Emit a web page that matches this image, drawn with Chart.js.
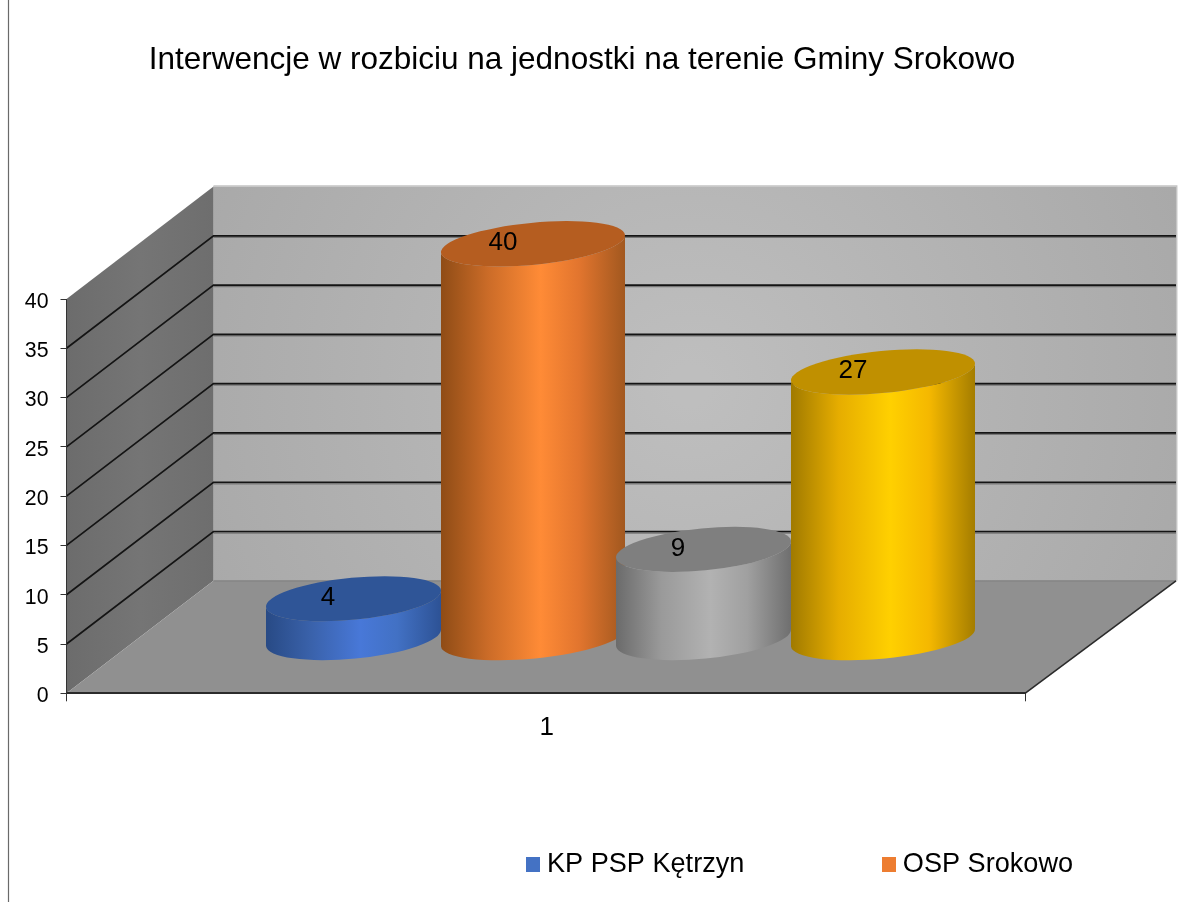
<!DOCTYPE html>
<html><head><meta charset="utf-8">
<style>html,body{margin:0;padding:0;background:#fff}canvas{display:block}</style>
<script src="https://cdn.jsdelivr.net/npm/chart.js@4"></script>
</head><body>
<canvas id="c" width="1192" height="902"></canvas>
<script>
const chartTitle = 'Interwencje w rozbiciu na jednostki na terenie Gminy Srokowo';
const categories = ['1'];
const seriesNames = ['KP PSP Kętrzyn', 'OSP Srokowo', '', ''];
const series1 = [4];
const series2 = [40];
const series3 = [9];
const series4 = [27];
const seriesValues = [series1, series2, series3, series4];
const baseColors = ['#4472c4', '#ed7d31', '#a5a5a5', '#ffc000'];
const topColors = ['#2f5597', '#b55d20', '#7f7f7f', '#c09000'];
const sideStops = [
  ['#284a85', '#3a62ab', '#4878d8', '#4271c4', '#2d5295'],
  ['#8f4c16', '#cc6c28', '#ff8b36', '#e2752e', '#a2581f'],
  ['#6b6b6b', '#9a9a9a', '#b2b2b2', '#a0a0a0', '#6f6f6f'],
  ['#a07a00', '#e6ad00', '#ffd000', '#f5b800', '#a47d00']
];
const extraWidth = [0, 9, 0, 9];
const FONT = '"Liberation Sans", Arial, sans-serif';
const DEPTH = {leftX: 147, rightX: 151, y: 112.5, barX: 70.25, barY: 55.2};

function swatch(color) {
  const s = document.createElement('canvas');
  s.width = 14; s.height = 15;
  const g = s.getContext('2d');
  g.fillStyle = color; g.fillRect(0, 0, 14, 15);
  return s;
}

const scene3d = {
  id: 'scene3d',
  beforeLayout(chart) {
    const l = chart.legend;
    if (l && !l._slim) {
      const fit = l.fit;
      l.fit = function () { fit.call(this); this.height = 10; };
      l._slim = true;
    }
  },
  afterLayout(chart) {
    const t = chart.titleBlock;
    t.left = -28; t.right = 1192;
    const l = chart.legend, p = chart.options.plugins.legend.labels.padding;
    l.left = 532.5 - p; l.right = 1700; l.top = 851 - p; l.bottom = 902;
  },
  beforeDraw(chart) {
    const ctx = chart.ctx, {left, right} = chart.chartArea;
    const ys = chart.scales.y;
    const y0 = ys.getPixelForValue(0), yTop = ys.getPixelForValue(40);
    const bl = left + DEPTH.leftX, br = right + DEPTH.rightX;
    const by0 = y0 - DEPTH.y, byTop = yTop - DEPTH.y;
    ctx.save();
    // outer frame line
    ctx.strokeStyle = '#6a6a6a'; ctx.lineWidth = 1.2;
    ctx.beginPath(); ctx.moveTo(8.5, 0); ctx.lineTo(8.5, 902); ctx.stroke();
    // back wall
    const rg = ctx.createRadialGradient(690, 385, 20, 690, 385, 520);
    rg.addColorStop(0, '#bebebe'); rg.addColorStop(1, '#a9a9a9');
    ctx.fillStyle = rg;
    ctx.fillRect(bl, byTop, br - bl, by0 - byTop);
    ctx.strokeStyle = '#c4c4c4'; ctx.lineWidth = 1.5;
    ctx.beginPath(); ctx.moveTo(bl, byTop - .5); ctx.lineTo(br + .7, byTop - .5); ctx.lineTo(br + .7, by0); ctx.stroke();
    // left wall
    const lg = ctx.createLinearGradient(left, 0, bl, 0);
    lg.addColorStop(0, '#6c6c6c'); lg.addColorStop(.5, '#757575'); lg.addColorStop(1, '#6e6e6e');
    ctx.fillStyle = lg;
    ctx.beginPath(); ctx.moveTo(left, yTop); ctx.lineTo(bl, byTop); ctx.lineTo(bl, by0); ctx.lineTo(left, y0); ctx.closePath(); ctx.fill();
    // floor
    ctx.fillStyle = '#909090';
    ctx.beginPath(); ctx.moveTo(left, y0); ctx.lineTo(bl, by0); ctx.lineTo(br, by0); ctx.lineTo(right, y0); ctx.closePath(); ctx.fill();
    ctx.strokeStyle = '#808080'; ctx.lineWidth = 1.2;
    ctx.beginPath(); ctx.moveTo(bl, by0); ctx.lineTo(br, by0); ctx.stroke();
    // floor edge
    ctx.strokeStyle = '#2b2b2b'; ctx.lineWidth = 1.6;
    ctx.beginPath(); ctx.moveTo(right, y0); ctx.lineTo(br, by0); ctx.stroke();
    // grid lines
    ys.ticks.forEach(tk => {
      if (tk.value === 0 || tk.value === 40) return;
      const y = ys.getPixelForValue(tk.value), by = y - DEPTH.y;
      ctx.strokeStyle = '#777'; ctx.lineWidth = 1.5;
      ctx.beginPath(); ctx.moveTo(bl, by + 1.4); ctx.lineTo(br, by + 1.4); ctx.stroke();
      ctx.strokeStyle = '#141414'; ctx.lineWidth = 1.7;
      ctx.beginPath(); ctx.moveTo(left, y); ctx.lineTo(bl, by); ctx.lineTo(br, by); ctx.stroke();
    });
    ctx.restore();
  },
  beforeDatasetDraw() { return false; },
  afterDatasetsDraw(chart) {
    const ctx = chart.ctx;
    const rot = -5.5 * Math.PI / 180, b = 21;
    const tops = [];
    chart.data.datasets.forEach((ds, i) => {
      const el = chart.getDatasetMeta(i).data[0];
      const x0 = el.x - el.width / 2 + DEPTH.barX;
      const x1 = el.x + el.width / 2 + DEPTH.barX + extraWidth[i];
      const cx = (x0 + x1) / 2, a = (x1 - x0) / 2 / Math.cos(rot);
      const yt = el.y - DEPTH.barY, yb = el.base - DEPTH.barY;
      const g = ctx.createLinearGradient(x0, 0, x1, 0);
      [0, .26, .54, .75, 1].forEach((o, k) => g.addColorStop(o, sideStops[i][k]));
      ctx.save();
      ctx.fillStyle = g;
      ctx.beginPath();
      ctx.ellipse(cx, yb, a, b, rot, 0, Math.PI);
      ctx.ellipse(cx, yt, a, b, rot, Math.PI, 0, true);
      ctx.closePath(); ctx.fill();
      ctx.fillStyle = topColors[i];
      ctx.beginPath(); ctx.ellipse(cx, yt, a, b, rot, 0, Math.PI * 2); ctx.fill();
      ctx.restore();
      tops.push({v: ds.data[0], x: x0 + 62, y: yt});
    });
    ctx.save();
    ctx.font = '26px ' + FONT; ctx.fillStyle = '#000';
    ctx.textAlign = 'center'; ctx.textBaseline = 'middle';
    tops.forEach(t => ctx.fillText(String(t.v), t.x, t.y - 1));
    ctx.restore();
  }
};

new Chart(document.getElementById('c'), {
  type: 'bar',
  data: {
    labels: categories,
    datasets: seriesNames.map((name, i) => ({
      label: name,
      data: seriesValues[i],
      backgroundColor: baseColors[i],
      categoryPercentage: 0.7303,
      barPercentage: 1
    }))
  },
  plugins: [scene3d],
  options: {
    responsive: false,
    animation: false,
    layout: {padding: {left: 0, right: 167, top: 0, bottom: 148.7}},
    plugins: {
      tooltip: {enabled: false},
      title: {
        display: true, text: chartTitle, color: '#000',
        font: {family: FONT, size: 31.5, weight: 'normal'},
        padding: {top: 41, bottom: 220.2}
      },
      legend: {
        display: true, position: 'bottom', align: 'start',
        labels: {
          color: '#000', font: {family: FONT, size: 27.1},
          usePointStyle: true, pointStyleWidth: 1, boxHeight: 15, padding: 144,
          generateLabels(chart) {
            return chart.data.datasets.map((d, i) => ({
              text: d.label, datasetIndex: i, fontColor: '#000',
              pointStyle: swatch(baseColors[i]), fillStyle: baseColors[i], lineWidth: 0
            })).filter(it => it.text);
          }
        }
      }
    },
    scales: {
      x: {
        afterFit(s) { s.height = 50; },
        grid: {drawOnChartArea: false, offset: true, tickLength: 8, color: '#333', lineWidth: 1},
        border: {display: true, color: '#2b2b2b', width: 2},
        ticks: {color: '#000', font: {family: FONT, size: 26}, padding: 11, labelOffset: 1}
      },
      y: {
        min: 0, max: 40,
        afterFit(s) { s.width = 66.5; },
        grid: {drawOnChartArea: false, tickLength: 6, color: '#333', lineWidth: 1},
        border: {display: true, color: '#333', width: 1},
        ticks: {stepSize: 5, color: '#000', font: {family: FONT, size: 21.3}, padding: 12, labelOffset: 3}
      }
    }
  }
});
</script>
</body></html>
